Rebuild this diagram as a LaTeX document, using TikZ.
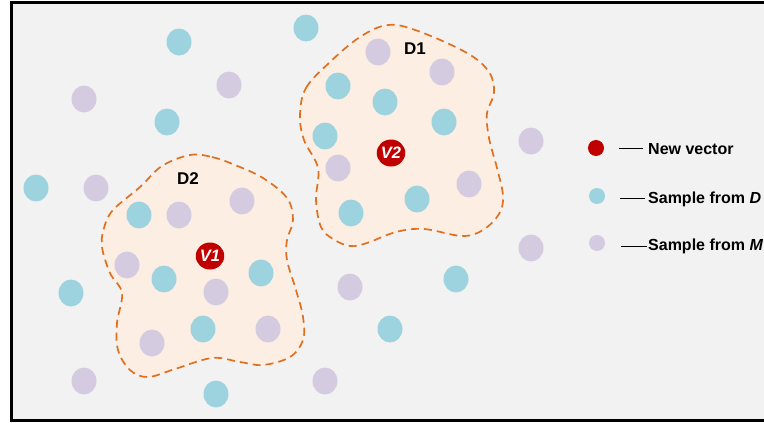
\documentclass[tikz,border=0pt]{standalone}
\usepackage{fontspec}
\setmainfont{Liberation Sans}
\usetikzlibrary{shapes.geometric}
\definecolor{bgc}{HTML}{F2F2F2}
\definecolor{cyanc}{HTML}{9DD3DE}
\definecolor{lavc}{HTML}{D4CBE0}
\definecolor{redc}{HTML}{C00000}
\definecolor{blobline}{HTML}{E07020}
\definecolor{blobfill}{HTML}{FDEEE3}
\tikzset{
  dotc/.style={ellipse, fill=cyanc, minimum width=25pt, minimum height=27pt, inner sep=0pt},
  dotl/.style={ellipse, fill=lavc, minimum width=25pt, minimum height=27pt, inner sep=0pt},
  dotv/.style={ellipse, fill=redc, minimum width=25pt, minimum height=27pt, inner sep=0pt,
     text=white, font=\fontsize{16.5}{16}\selectfont\bfseries\itshape},
  legdot/.style={circle, minimum size=16pt, inner sep=0pt},
  blob/.style={draw=blobline, fill=blobfill, line width=1.7pt, dash pattern=on 8pt off 5pt},
  lbl/.style={font=\fontsize{17}{17}\selectfont\bfseries, inner sep=0pt},
  legtxt/.style={font=\fontsize{16}{16}\selectfont\bfseries, inner sep=0pt, anchor=base west},
  legline/.style={line width=0.8pt, black}
}
\begin{document}
\begin{tikzpicture}[x=1pt,y=-1pt]
\useasboundingbox (0,0) rectangle (764,423);
\clip (0,0) rectangle (764,423);
\fill[white] (0,0) rectangle (764,423);
\draw[line width=3pt, fill=bgc] (11,2) rectangle (800,420.5);
% blobs
\draw[blob] plot[smooth cycle, tension=0.6] coordinates {
 (300,115) (306,88) (330,62) (360,37) (388,25) (418,31) (467,53) (489,72) (494,93)
 (487,113) (489,138) (497,168) (503,196) (499,214) (483,230) (462,236) (424,229)
 (396,232) (367,243) (350,246) (333,239) (321,227) (316,200) (318,168) (304,140)};
\draw[blob] plot[smooth cycle, tension=0.6] coordinates {
 (190,155) (212,157) (235,165) (263,178) (287,198) (293,220) (287,240) (287,260)
 (296,290) (303,317) (303,340) (290,357) (263,365) (240,362) (212,358) (175,369)
 (148,377) (130,370) (118,350) (117,323) (122,293) (110,273) (102,247) (104,228)
 (113,210) (140,187) (162,166)};
% cyan dots
\node[dotc] (c1) at (179,42) {};
\node[dotc] (c2) at (306,28) {};
\node[dotc] (c3) at (167,122) {};
\node[dotc] (c4) at (338,86) {};
\node[dotc] (c5) at (325,136) {};
\node[dotc] (c6) at (385,102) {};
\node[dotc] (c7) at (444,122) {};
\node[dotc] (c8) at (351,213) {};
\node[dotc] (c9) at (417,199) {};
\node[dotc] (c10) at (36,188) {};
\node[dotc] (c11) at (139,215) {};
\node[dotc] (c12) at (164,279) {};
\node[dotc] (c13) at (261,273) {};
\node[dotc] (c14) at (203,329) {};
\node[dotc] (c15) at (71,293) {};
\node[dotc] (c16) at (216,394) {};
\node[dotc] (c17) at (456,279) {};
\node[dotc] (c18) at (390,329) {};
% lavender dots
\node[dotl] (l1) at (84,99) {};
\node[dotl] (l2) at (229,85) {};
\node[dotl] (l3) at (378,52) {};
\node[dotl] (l4) at (442,72) {};
\node[dotl] (l5) at (338,168) {};
\node[dotl] (l6) at (469,184) {};
\node[dotl] (l7) at (531,141) {};
\node[dotl] (l8) at (531,248) {};
\node[dotl] (l9) at (96,188) {};
\node[dotl] (l10) at (179,215) {};
\node[dotl] (l11) at (242,201) {};
\node[dotl] (l12) at (127,265) {};
\node[dotl] (l13) at (216,292) {};
\node[dotl] (l14) at (152,343) {};
\node[dotl] (l15) at (268,329) {};
\node[dotl] (l16) at (84,381) {};
\node[dotl] (l17) at (325,381) {};
\node[dotl] (l18) at (350,287) {};
% new vectors
\node[dotv] (v1) at (210,256) {V1};
\node[dotv] (v2) at (391,153) {V2};
% labels
\node[lbl] (d1) at (415,49) {D1};
\node[lbl] (d2) at (188,179) {D2};
% legend
\node[legdot, fill=redc] (ld1) at (596,148) {};
\node[legdot, fill=cyanc] (ld2) at (597,196) {};
\node[legdot, fill=lavc] (ld3) at (597,243) {};
\node[legtxt] (lt1) at (648,154.5) {New vector};
\node[legtxt] (lt2) at (648,203) {Sample from \textit{D}};
\node[legtxt] (lt3) at (648,250.5) {Sample from \textit{M}};
\coordinate (la1) at (619,148);
\coordinate (lb1) at (643,148);
\coordinate (la2) at (620,198);
\coordinate (lb2) at (645,198);
\coordinate (la3) at (621,246);
\coordinate (lb3) at (647,246);
\draw[legline] (la1) -- (lb1);
\draw[legline] (la2) -- (lb2);
\draw[legline] (la3) -- (lb3);
\end{tikzpicture}
\end{document}
